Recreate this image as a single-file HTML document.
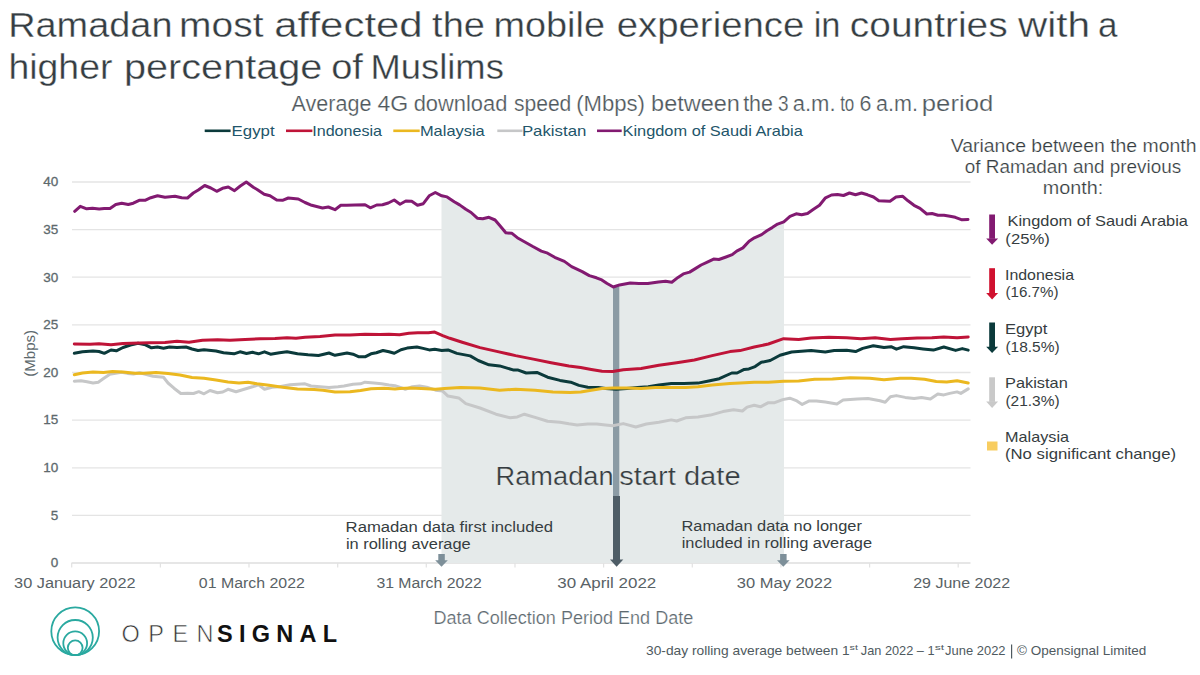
<!DOCTYPE html>
<html><head><meta charset="utf-8"><style>
html,body{margin:0;padding:0;background:#fff;}
body{width:1200px;height:675px;overflow:hidden;}
svg{display:block;font-family:"Liberation Sans", sans-serif;}
</style></head><body>
<svg width="1200" height="675" viewBox="0 0 1200 675">
<rect width="1200" height="675" fill="#fff"/>
<line x1="72" y1="515.4" x2="970.5" y2="515.4" stroke="#e4e4e4" stroke-width="1.3"/>
<line x1="72" y1="467.8" x2="970.5" y2="467.8" stroke="#e4e4e4" stroke-width="1.3"/>
<line x1="72" y1="420.1" x2="970.5" y2="420.1" stroke="#e4e4e4" stroke-width="1.3"/>
<line x1="72" y1="372.5" x2="970.5" y2="372.5" stroke="#e4e4e4" stroke-width="1.3"/>
<line x1="72" y1="324.9" x2="970.5" y2="324.9" stroke="#e4e4e4" stroke-width="1.3"/>
<line x1="72" y1="277.2" x2="970.5" y2="277.2" stroke="#e4e4e4" stroke-width="1.3"/>
<line x1="72" y1="229.6" x2="970.5" y2="229.6" stroke="#e4e4e4" stroke-width="1.3"/>
<line x1="72" y1="182.0" x2="970.5" y2="182.0" stroke="#e4e4e4" stroke-width="1.3"/>
<line x1="71.5" y1="563.0" x2="970.5" y2="563.0" stroke="#dedede" stroke-width="1.3"/>
<line x1="71.7" y1="563.0" x2="71.7" y2="567.5" stroke="#e2e2e2" stroke-width="1.2"/>
<line x1="160.4" y1="563.0" x2="160.4" y2="567.5" stroke="#e2e2e2" stroke-width="1.2"/>
<line x1="249.0" y1="563.0" x2="249.0" y2="567.5" stroke="#e2e2e2" stroke-width="1.2"/>
<line x1="337.7" y1="563.0" x2="337.7" y2="567.5" stroke="#e2e2e2" stroke-width="1.2"/>
<line x1="426.3" y1="563.0" x2="426.3" y2="567.5" stroke="#e2e2e2" stroke-width="1.2"/>
<line x1="515.0" y1="563.0" x2="515.0" y2="567.5" stroke="#e2e2e2" stroke-width="1.2"/>
<line x1="603.6" y1="563.0" x2="603.6" y2="567.5" stroke="#e2e2e2" stroke-width="1.2"/>
<line x1="692.3" y1="563.0" x2="692.3" y2="567.5" stroke="#e2e2e2" stroke-width="1.2"/>
<line x1="780.9" y1="563.0" x2="780.9" y2="567.5" stroke="#e2e2e2" stroke-width="1.2"/>
<line x1="869.6" y1="563.0" x2="869.6" y2="567.5" stroke="#e2e2e2" stroke-width="1.2"/>
<line x1="958.2" y1="563.0" x2="958.2" y2="567.5" stroke="#e2e2e2" stroke-width="1.2"/>
<path d="M441.5,195.7 L441.7,195.8 L447.1,196.9 L454.2,201.7 L459.6,204.9 L465.8,209.3 L471.1,212.5 L477.3,218.2 L482.7,218.8 L488.9,217.3 L495.1,220.0 L500.4,226.2 L505.8,232.8 L512.0,233.3 L518.2,238.3 L525.3,242.2 L532.4,246.3 L541.3,251.1 L547.6,253.2 L554.7,257.3 L564.4,261.4 L571.6,266.6 L582.2,271.6 L589.3,275.6 L596.4,277.8 L601.8,279.9 L607.1,283.5 L613.3,287.0 L619.6,284.9 L630.2,283.1 L638.9,283.6 L647.8,283.6 L658.4,281.9 L665.6,281.3 L671.8,282.2 L678.0,277.4 L683.3,273.9 L689.6,272.1 L694.9,268.9 L701.1,265.0 L707.3,262.1 L713.6,259.1 L718.9,259.5 L726.0,257.0 L732.2,254.7 L736.7,251.1 L742.9,247.9 L749.1,241.3 L754.4,237.8 L761.6,234.6 L766.9,230.7 L772.2,227.6 L777.6,224.1 L783.8,221.8 L784.0,221.6 L784.0,563.0 L441.5,563.0 Z" fill="#e5eaea"/>
<rect x="613" y="286.1" width="6.3" height="209.9" fill="#8b9ba4"/>
<path d="M74.3,381.2 L81.0,380.8 L87.0,381.8 L93.0,383.0 L98.3,382.2 L103.5,378.5 L109.5,374.4 L115.5,373.2 L121.5,372.2 L127.5,373.4 L133.5,374.0 L139.5,372.8 L145.5,374.3 L153.0,376.3 L163.5,377.3 L168.0,383.0 L174.0,388.2 L180.8,393.5 L187.5,393.2 L193.5,393.5 L198.8,391.7 L204.0,393.8 L210.0,390.5 L217.5,392.8 L222.8,392.0 L228.0,389.3 L236.0,391.7 L245.0,389.0 L252.5,386.8 L258.5,384.8 L264.5,389.3 L272.0,387.2 L279.5,386.8 L290.0,384.8 L297.5,384.2 L305.0,383.8 L311.0,386.0 L320.0,386.8 L329.0,387.5 L338.0,386.8 L344.0,386.0 L353.0,384.2 L360.5,383.8 L365.0,382.2 L374.0,383.0 L381.5,383.8 L389.0,385.0 L395.0,385.7 L402.5,388.2 L405.3,389.3 L412.4,386.7 L419.6,386.1 L426.7,387.2 L435.6,390.2 L442.7,391.1 L448.0,396.1 L458.7,397.9 L465.8,403.6 L480.0,408.0 L496.0,414.2 L510.2,417.8 L517.3,416.9 L524.4,414.2 L535.1,417.4 L547.6,421.3 L560.0,422.2 L568.9,423.8 L577.1,424.9 L587.8,424.0 L596.7,424.0 L605.6,424.9 L612.7,425.8 L623.3,423.6 L635.8,427.0 L646.4,424.0 L658.9,422.2 L671.3,419.9 L676.7,421.0 L685.6,417.8 L698.0,416.9 L710.4,415.1 L722.9,411.6 L733.6,409.8 L742.4,411.0 L747.1,407.1 L754.2,405.3 L760.4,406.8 L768.4,402.7 L774.7,402.7 L782.7,399.6 L789.8,398.2 L796.9,400.9 L802.2,404.4 L809.3,400.9 L816.4,400.9 L825.3,402.1 L836.9,403.9 L843.1,400.0 L857.3,399.1 L868.0,398.6 L880.0,400.8 L885.2,402.3 L890.4,396.8 L896.3,395.6 L905.2,397.4 L914.1,398.6 L921.5,397.4 L930.4,398.9 L937.8,394.1 L943.8,394.9 L949.7,393.4 L957.1,391.9 L960.8,393.4 L968.2,388.9" fill="none" stroke="#c6c7c8" stroke-width="3" stroke-linejoin="round" stroke-linecap="round"/>
<path d="M74.3,353.3 L82.5,351.8 L93.0,351.0 L99.0,351.5 L104.3,353.3 L111.0,350.0 L116.3,350.8 L123.0,347.5 L130.5,345.0 L138.0,343.3 L145.5,344.8 L151.5,347.8 L157.5,347.0 L163.5,348.2 L169.5,347.0 L177.0,347.5 L186.0,347.0 L192.0,349.0 L198.0,350.5 L204.0,349.7 L216.0,351.0 L223.5,352.7 L234.0,353.8 L240.0,351.8 L246.5,353.5 L252.5,352.3 L258.5,353.8 L264.5,351.8 L270.5,354.2 L279.5,352.7 L287.0,351.8 L297.5,353.8 L308.0,354.8 L318.5,355.5 L329.0,353.0 L335.0,355.3 L347.0,353.0 L353.0,354.2 L359.0,356.8 L365.0,356.8 L371.0,353.8 L376.3,352.7 L383.0,350.5 L389.0,351.8 L394.3,353.3 L401.0,349.7 L407.1,348.1 L416.9,347.0 L423.1,348.4 L429.3,349.9 L434.7,349.3 L441.8,350.6 L448.0,349.9 L456.9,353.4 L470.2,355.9 L478.2,360.5 L488.9,364.8 L499.6,365.9 L513.8,370.1 L518.2,370.1 L526.2,373.0 L536.9,372.4 L547.6,377.2 L560.0,380.4 L570.7,382.2 L578.9,385.4 L587.8,387.2 L598.4,387.6 L605.6,388.4 L616.2,389.3 L626.9,388.4 L637.6,387.6 L648.2,386.7 L658.9,384.9 L671.3,383.6 L683.8,383.6 L698.0,383.1 L708.7,381.0 L719.3,378.7 L731.8,373.0 L737.1,373.0 L744.2,369.4 L748.9,368.9 L755.1,366.6 L761.3,362.3 L770.2,360.5 L780.0,355.2 L791.6,352.0 L811.1,350.6 L825.3,352.0 L834.2,350.6 L846.7,350.2 L855.6,351.6 L862.7,348.4 L873.3,345.8 L884.0,347.6 L891.1,346.7 L896.4,349.2 L903.7,346.7 L914.1,347.7 L923.0,348.9 L933.4,350.1 L943.8,347.0 L955.6,350.4 L962.3,348.6 L968.2,350.1" fill="none" stroke="#0b3a3b" stroke-width="3" stroke-linejoin="round" stroke-linecap="round"/>
<path d="M74.3,374.8 L82.5,373.0 L93.0,372.0 L103.5,372.5 L112.5,371.6 L123.0,371.9 L135.0,373.3 L144.0,373.3 L156.0,372.5 L168.0,373.6 L180.0,375.0 L192.0,377.5 L204.0,378.2 L216.0,380.0 L228.0,382.0 L239.0,383.0 L248.0,382.2 L257.0,383.8 L269.0,385.3 L282.5,387.2 L297.5,389.0 L314.0,389.5 L323.0,390.2 L335.0,392.0 L350.0,391.7 L360.5,390.5 L371.0,388.7 L384.5,388.2 L395.0,389.0 L400.0,388.4 L410.7,387.9 L421.3,388.4 L435.6,389.3 L444.4,388.4 L460.4,387.6 L480.0,387.9 L499.6,390.2 L515.6,389.3 L535.1,390.2 L552.9,392.0 L570.0,392.5 L580.7,392.0 L591.3,390.2 L602.0,388.4 L612.7,387.9 L626.9,387.9 L641.1,388.4 L655.3,387.6 L669.6,387.6 L685.6,387.6 L698.0,386.7 L712.2,384.9 L730.0,383.6 L740.0,383.1 L754.2,382.2 L768.4,382.2 L783.6,381.3 L798.7,381.0 L814.7,379.2 L832.4,379.0 L850.2,377.8 L869.8,378.3 L884.0,379.7 L900.0,378.3 L911.1,378.3 L924.5,379.3 L936.3,381.5 L946.7,382.0 L957.1,380.8 L968.2,383.0" fill="none" stroke="#ebb820" stroke-width="3" stroke-linejoin="round" stroke-linecap="round"/>
<path d="M74.3,344.0 L90.0,344.3 L99.0,343.7 L111.0,344.8 L123.0,343.5 L139.5,343.0 L150.0,342.8 L165.0,342.5 L177.0,341.3 L189.0,342.2 L202.5,340.3 L217.5,339.8 L230.0,340.3 L245.0,339.5 L260.0,338.8 L275.0,338.5 L287.0,337.7 L296.0,338.3 L305.0,337.3 L320.0,336.5 L335.0,335.0 L350.0,335.0 L365.0,334.3 L380.0,334.5 L389.0,334.3 L399.5,334.7 L408.9,333.3 L417.8,332.8 L428.4,332.8 L434.7,332.1 L442.7,335.6 L449.8,338.3 L462.2,342.2 L480.0,347.6 L497.8,351.6 L515.6,355.6 L533.3,359.1 L551.1,362.7 L568.9,365.9 L580.7,367.6 L591.3,369.4 L602.0,371.2 L612.7,371.6 L623.3,369.8 L641.1,368.4 L658.9,365.3 L676.7,362.7 L694.4,360.0 L712.2,355.6 L730.0,351.6 L740.0,350.6 L754.2,347.0 L768.4,344.0 L783.6,338.7 L798.7,339.6 L811.1,338.1 L828.9,337.2 L846.7,337.8 L860.9,338.7 L875.1,337.8 L890.4,339.6 L902.2,338.8 L917.1,338.1 L931.9,337.8 L943.8,337.0 L957.1,337.8 L968.2,337.0" fill="none" stroke="#bf1438" stroke-width="3" stroke-linejoin="round" stroke-linecap="round"/>
<path d="M74.7,211.3 L80.3,206.3 L86.7,208.8 L92.5,208.3 L99.2,209.0 L104.2,208.5 L110.0,208.5 L115.8,204.5 L121.7,203.2 L128.3,204.5 L133.3,203.2 L139.2,200.3 L145.0,200.3 L150.8,197.7 L157.5,195.8 L165.0,197.3 L175.0,196.3 L181.7,197.7 L187.5,198.0 L193.3,193.0 L198.3,190.0 L204.7,185.5 L210.8,188.0 L216.7,191.3 L222.5,188.3 L228.3,187.0 L234.5,190.7 L240.3,186.0 L246.3,182.0 L253.3,187.2 L257.5,189.7 L264.2,194.2 L270.0,195.8 L276.7,200.0 L282.5,200.3 L288.3,198.0 L298.3,199.0 L305.0,202.5 L311.7,205.3 L322.5,208.0 L328.3,207.0 L335.0,209.7 L340.8,205.3 L346.7,205.3 L355.0,205.0 L365.0,204.7 L370.3,207.8 L376.7,205.0 L382.5,204.7 L388.3,203.0 L394.2,200.0 L400.0,204.2 L405.8,201.0 L411.7,201.3 L417.5,205.3 L423.3,203.7 L429.2,195.8 L435.3,192.5 L441.7,195.8 L447.1,196.9 L454.2,201.7 L459.6,204.9 L465.8,209.3 L471.1,212.5 L477.3,218.2 L482.7,218.8 L488.9,217.3 L495.1,220.0 L500.4,226.2 L505.8,232.8 L512.0,233.3 L518.2,238.3 L525.3,242.2 L532.4,246.3 L541.3,251.1 L547.6,253.2 L554.7,257.3 L564.4,261.4 L571.6,266.6 L582.2,271.6 L589.3,275.6 L596.4,277.8 L601.8,279.9 L607.1,283.5 L613.3,287.0 L619.6,284.9 L630.2,283.1 L638.9,283.6 L647.8,283.6 L658.4,281.9 L665.6,281.3 L671.8,282.2 L678.0,277.4 L683.3,273.9 L689.6,272.1 L694.9,268.9 L701.1,265.0 L707.3,262.1 L713.6,259.1 L718.9,259.5 L726.0,257.0 L732.2,254.7 L736.7,251.1 L742.9,247.9 L749.1,241.3 L754.4,237.8 L761.6,234.6 L766.9,230.7 L772.2,227.6 L777.6,224.1 L783.8,221.8 L790.0,216.4 L796.2,213.8 L801.6,214.7 L807.5,213.5 L813.5,209.3 L819.5,205.3 L825.5,197.8 L831.5,195.0 L837.5,194.5 L843.5,195.5 L849.5,193.0 L855.5,194.8 L861.5,193.0 L867.5,194.8 L873.5,197.0 L878.8,200.8 L884.0,201.0 L890.0,201.2 L896.0,197.0 L902.8,196.3 L908.0,200.8 L914.0,205.3 L920.0,208.3 L926.8,214.0 L932.0,213.5 L938.0,215.3 L944.0,215.3 L950.0,216.2 L955.3,217.3 L962.0,219.8 L968.0,219.5" fill="none" stroke="#821a71" stroke-width="3" stroke-linejoin="round" stroke-linecap="round"/>
<text x="495.57" y="485.3" font-size="26" fill="#363d41" textLength="118.0" lengthAdjust="spacingAndGlyphs" stroke="#fff" stroke-width="0.22">Ramadan</text>
<text x="619.19" y="485.3" font-size="26" fill="#363d41" textLength="121.4" lengthAdjust="spacingAndGlyphs" stroke="#fff" stroke-width="0.22">start date</text>
<rect x="613" y="496" width="7" height="64" fill="#4e5d66"/>
<path d="M610,559.5 L623.3,559.5 L616.6,566.8 Z" fill="#4e5d66"/>
<rect x="438.3" y="554" width="6.5" height="7" fill="#7d8f99"/>
<path d="M435.2,560.3 L447.8,560.3 L441.5,566.8 Z" fill="#7d8f99"/>
<rect x="780.1" y="554" width="6.5" height="7" fill="#7d8f99"/>
<path d="M777.0,560.3 L789.6,560.3 L783.3,566.8 Z" fill="#7d8f99"/>
<text x="345.63" y="531.5" font-size="15.5" fill="#363d41" textLength="207.44" lengthAdjust="spacingAndGlyphs">Ramadan data first included</text>
<text x="345.9" y="549" font-size="15.5" fill="#363d41" textLength="124.82" lengthAdjust="spacingAndGlyphs">in rolling average</text>
<text x="681.46" y="530.7" font-size="15.5" fill="#363d41" textLength="180.42" lengthAdjust="spacingAndGlyphs">Ramadan data no longer</text>
<text x="681.7" y="548.1" font-size="15.5" fill="#363d41" textLength="190.32" lengthAdjust="spacingAndGlyphs">included in rolling average</text>
<text x="8.19" y="37.2" font-size="35.5" fill="#353d42" textLength="164.27" lengthAdjust="spacingAndGlyphs" stroke="#fff" stroke-width="0.35">Ramadan</text>
<text x="179.11" y="37.2" font-size="35.5" fill="#353d42" textLength="84.47" lengthAdjust="spacingAndGlyphs" stroke="#fff" stroke-width="0.35">most</text>
<text x="274.23" y="37.2" font-size="35.5" fill="#353d42" textLength="148.46" lengthAdjust="spacingAndGlyphs" stroke="#fff" stroke-width="0.35">affected</text>
<text x="432.12" y="37.2" font-size="35.5" fill="#353d42" textLength="52.87" lengthAdjust="spacingAndGlyphs" stroke="#fff" stroke-width="0.35">the</text>
<text x="493.49" y="37.2" font-size="35.5" fill="#353d42" textLength="111.5" lengthAdjust="spacingAndGlyphs" stroke="#fff" stroke-width="0.35">mobile</text>
<text x="616.67" y="37.2" font-size="35.5" fill="#353d42" textLength="187.74" lengthAdjust="spacingAndGlyphs" stroke="#fff" stroke-width="0.35">experience</text>
<text x="813.69" y="37.2" font-size="35.5" fill="#353d42" textLength="26.85" lengthAdjust="spacingAndGlyphs" stroke="#fff" stroke-width="0.35">in</text>
<text x="849.85" y="37.2" font-size="35.5" fill="#353d42" textLength="157.86" lengthAdjust="spacingAndGlyphs" stroke="#fff" stroke-width="0.35">countries</text>
<text x="1018.06" y="37.2" font-size="35.5" fill="#353d42" textLength="72.07" lengthAdjust="spacingAndGlyphs" stroke="#fff" stroke-width="0.35">with</text>
<text x="1098.01" y="37.2" font-size="35.5" fill="#353d42" textLength="19.49" lengthAdjust="spacingAndGlyphs" stroke="#fff" stroke-width="0.35">a</text>
<text x="8.41" y="79.0" font-size="35.5" fill="#353d42" textLength="104.02" lengthAdjust="spacingAndGlyphs" stroke="#fff" stroke-width="0.35">higher</text>
<text x="123.94" y="79.0" font-size="35.5" fill="#353d42" textLength="198.42" lengthAdjust="spacingAndGlyphs" stroke="#fff" stroke-width="0.35">percentage</text>
<text x="331.2" y="79.0" font-size="35.5" fill="#353d42" textLength="31.74" lengthAdjust="spacingAndGlyphs" stroke="#fff" stroke-width="0.35">of</text>
<text x="370.52" y="79.0" font-size="35.5" fill="#353d42" textLength="133.3" lengthAdjust="spacingAndGlyphs" stroke="#fff" stroke-width="0.35">Muslims</text>
<text x="291.56" y="110.5" font-size="22" fill="#4f585d" textLength="79.9" lengthAdjust="spacingAndGlyphs" stroke="#fff" stroke-width="0.22">Average</text>
<text x="377.47" y="110.5" font-size="22" fill="#4f585d" textLength="30.75" lengthAdjust="spacingAndGlyphs" stroke="#fff" stroke-width="0.22">4G</text>
<text x="413.68" y="110.5" font-size="22" fill="#4f585d" textLength="93.73" lengthAdjust="spacingAndGlyphs" stroke="#fff" stroke-width="0.22">download</text>
<text x="513.91" y="110.5" font-size="22" fill="#4f585d" textLength="57.45" lengthAdjust="spacingAndGlyphs" stroke="#fff" stroke-width="0.22">speed</text>
<text x="576.13" y="110.5" font-size="22" fill="#4f585d" textLength="68.84" lengthAdjust="spacingAndGlyphs" stroke="#fff" stroke-width="0.22">(Mbps)</text>
<text x="651.09" y="110.5" font-size="22" fill="#4f585d" textLength="88.84" lengthAdjust="spacingAndGlyphs" stroke="#fff" stroke-width="0.22">between</text>
<text x="743.18" y="110.5" font-size="22" fill="#4f585d" textLength="29.78" lengthAdjust="spacingAndGlyphs" stroke="#fff" stroke-width="0.22">the</text>
<text x="777.88" y="110.5" font-size="22" fill="#4f585d" textLength="10.56" lengthAdjust="spacingAndGlyphs" stroke="#fff" stroke-width="0.22">3</text>
<text x="792.66" y="110.5" font-size="22" fill="#4f585d" textLength="42.85" lengthAdjust="spacingAndGlyphs" stroke="#fff" stroke-width="0.22">a.m.</text>
<text x="840.14" y="110.5" font-size="22" fill="#4f585d" textLength="14.17" lengthAdjust="spacingAndGlyphs" stroke="#fff" stroke-width="0.22">to</text>
<text x="859.41" y="110.5" font-size="22" fill="#4f585d" textLength="11.93" lengthAdjust="spacingAndGlyphs" stroke="#fff" stroke-width="0.22">6</text>
<text x="876.09" y="110.5" font-size="22" fill="#4f585d" textLength="41.88" lengthAdjust="spacingAndGlyphs" stroke="#fff" stroke-width="0.22">a.m.</text>
<text x="921.84" y="110.5" font-size="22" fill="#4f585d" textLength="71.41" lengthAdjust="spacingAndGlyphs" stroke="#fff" stroke-width="0.22">period</text>
<line x1="204.7" y1="130.8" x2="230.6" y2="130.8" stroke="#0b3a3b" stroke-width="2.6"/>
<text x="231.62" y="135.7" font-size="15" fill="#22556a" textLength="43.0" lengthAdjust="spacingAndGlyphs">Egypt</text>
<line x1="286" y1="130.8" x2="312.4" y2="130.8" stroke="#bf1438" stroke-width="2.6"/>
<text x="312.22" y="135.7" font-size="15" fill="#22556a" textLength="69.78" lengthAdjust="spacingAndGlyphs">Indonesia</text>
<line x1="393.3" y1="130.8" x2="419.7" y2="130.8" stroke="#ebb820" stroke-width="2.6"/>
<text x="419.95" y="135.7" font-size="15" fill="#22556a" textLength="64.75" lengthAdjust="spacingAndGlyphs">Malaysia</text>
<line x1="497.3" y1="130.8" x2="522.5" y2="130.8" stroke="#c6c7c8" stroke-width="2.6"/>
<text x="521.92" y="135.7" font-size="15" fill="#22556a" textLength="64.47" lengthAdjust="spacingAndGlyphs">Pakistan</text>
<line x1="597" y1="130.8" x2="621.7" y2="130.8" stroke="#821a71" stroke-width="2.6"/>
<text x="622.46" y="135.7" font-size="15" fill="#22556a" textLength="180.34" lengthAdjust="spacingAndGlyphs">Kingdom of Saudi Arabia</text>
<text x="58.33" y="567.3" font-size="13.5" fill="#5d696d" text-anchor="end" stroke="#5d696d" stroke-width="0.3">0</text>
<text x="58.37" y="519.7" font-size="13.5" fill="#5d696d" text-anchor="end" stroke="#5d696d" stroke-width="0.3">5</text>
<text x="58.33" y="472.1" font-size="13.5" fill="#5d696d" text-anchor="end" stroke="#5d696d" stroke-width="0.3">10</text>
<text x="58.37" y="424.4" font-size="13.5" fill="#5d696d" text-anchor="end" stroke="#5d696d" stroke-width="0.3">15</text>
<text x="58.33" y="376.8" font-size="13.5" fill="#5d696d" text-anchor="end" stroke="#5d696d" stroke-width="0.3">20</text>
<text x="58.37" y="329.2" font-size="13.5" fill="#5d696d" text-anchor="end" stroke="#5d696d" stroke-width="0.3">25</text>
<text x="58.33" y="281.6" font-size="13.5" fill="#5d696d" text-anchor="end" stroke="#5d696d" stroke-width="0.3">30</text>
<text x="58.37" y="233.9" font-size="13.5" fill="#5d696d" text-anchor="end" stroke="#5d696d" stroke-width="0.3">35</text>
<text x="58.33" y="186.3" font-size="13.5" fill="#5d696d" text-anchor="end" stroke="#5d696d" stroke-width="0.3">40</text>
<text transform="translate(34.8,353.3) rotate(-90)" font-size="15.5" fill="#5d696d" text-anchor="middle" textLength="46.7" lengthAdjust="spacingAndGlyphs">(Mbps)</text>
<text x="14.08" y="587.8" font-size="15.5" fill="#596266" textLength="121.44" lengthAdjust="spacingAndGlyphs">30 January 2022</text>
<text x="198.88" y="587.8" font-size="15.5" fill="#596266" textLength="105.92" lengthAdjust="spacingAndGlyphs">01 March 2022</text>
<text x="376.4" y="587.8" font-size="15.5" fill="#596266" textLength="105.4" lengthAdjust="spacingAndGlyphs">31 March 2022</text>
<text x="557.36" y="587.8" font-size="15.5" fill="#596266" textLength="98.88" lengthAdjust="spacingAndGlyphs">30 April 2022</text>
<text x="736.87" y="587.8" font-size="15.5" fill="#596266" textLength="95.26" lengthAdjust="spacingAndGlyphs">30 May 2022</text>
<text x="913.2" y="587.8" font-size="15.5" fill="#596266" textLength="96.91" lengthAdjust="spacingAndGlyphs">29 June 2022</text>
<text x="433.52" y="624.3" font-size="18" fill="#5e6a70" textLength="259.78" lengthAdjust="spacingAndGlyphs" stroke="#fff" stroke-width="0.22">Data Collection Period End Date</text>
<text x="645.98" y="655" font-size="13.5" fill="#4f5a60" textLength="203.7" lengthAdjust="spacingAndGlyphs">30-day rolling average between 1</text>
<text x="849.5" y="650.2" font-size="7.5" fill="#4f5a60" textLength="8.38" lengthAdjust="spacingAndGlyphs">st</text>
<text x="860.8" y="655" font-size="13.5" fill="#4f5a60" textLength="73.82" lengthAdjust="spacingAndGlyphs">Jan 2022 – 1</text>
<text x="934.66" y="650.2" font-size="7.5" fill="#4f5a60" textLength="9.43" lengthAdjust="spacingAndGlyphs">st</text>
<text x="945.1" y="655" font-size="13.5" fill="#4f5a60" textLength="60.45" lengthAdjust="spacingAndGlyphs">June 2022</text>
<rect x="1011" y="644.5" width="1.2" height="14" fill="#4f5a60"/>
<text x="1017.1" y="655" font-size="13.5" fill="#4f5a60" textLength="129.27" lengthAdjust="spacingAndGlyphs">© Opensignal Limited</text>
<text x="950.72" y="151.8" font-size="18.5" fill="#363d41" textLength="245.84" lengthAdjust="spacingAndGlyphs" stroke="#fff" stroke-width="0.22">Variance between the month</text>
<text x="964.81" y="172.6" font-size="18.5" fill="#363d41" textLength="216.38" lengthAdjust="spacingAndGlyphs" stroke="#fff" stroke-width="0.22">of Ramadan and previous</text>
<text x="1042.69" y="193.9" font-size="18.5" fill="#363d41" textLength="60.52" lengthAdjust="spacingAndGlyphs" stroke="#fff" stroke-width="0.22">month:</text>
<rect x="989.2" y="214.5" width="5.8" height="24.30000000000001" fill="#821a71"/>
<path d="M986.2,238.4 L998.1,238.4 L992.1,244.8 Z" fill="#821a71"/>
<text x="1007.56" y="226.4" font-size="15" fill="#363d41" textLength="180.44" lengthAdjust="spacingAndGlyphs">Kingdom of Saudi Arabia</text>
<text x="1005.37" y="244.0" font-size="15" fill="#363d41" textLength="44.47" lengthAdjust="spacingAndGlyphs">(25%)</text>
<rect x="989.2" y="268.2" width="5.8" height="25.30000000000001" fill="#d0112f"/>
<path d="M986.2,293.1 L998.1,293.1 L992.1,299.5 Z" fill="#d0112f"/>
<text x="1005.03" y="279.8" font-size="15" fill="#363d41" textLength="68.97" lengthAdjust="spacingAndGlyphs">Indonesia</text>
<text x="1005.46" y="297.40000000000003" font-size="15" fill="#363d41" textLength="52.98" lengthAdjust="spacingAndGlyphs">(16.7%)</text>
<rect x="989.2" y="322.5" width="5.8" height="24.600000000000023" fill="#0b3a3b"/>
<path d="M986.2,346.7 L998.1,346.7 L992.1,353.1 Z" fill="#0b3a3b"/>
<text x="1005.04" y="333.9" font-size="15" fill="#363d41" textLength="42.38" lengthAdjust="spacingAndGlyphs">Egypt</text>
<text x="1005.44" y="351.5" font-size="15" fill="#363d41" textLength="54.22" lengthAdjust="spacingAndGlyphs">(18.5%)</text>
<rect x="989.2" y="377.3" width="5.8" height="24.599999999999966" fill="#c9c9c9"/>
<path d="M986.2,401.5 L998.1,401.5 L992.1,407.9 Z" fill="#c9c9c9"/>
<text x="1005.06" y="387.9" font-size="15" fill="#363d41" textLength="62.7" lengthAdjust="spacingAndGlyphs">Pakistan</text>
<text x="1005.44" y="405.5" font-size="15" fill="#363d41" textLength="54.22" lengthAdjust="spacingAndGlyphs">(21.3%)</text>
<rect x="987" y="441.5" width="10.5" height="9" fill="#f8cd60"/>
<text x="1005.07" y="442" font-size="15" fill="#363d41" textLength="63.93" lengthAdjust="spacingAndGlyphs">Malaysia</text>
<text x="1004.96" y="459.4" font-size="15" fill="#363d41" textLength="171.07" lengthAdjust="spacingAndGlyphs">(No significant change)</text>
<circle cx="75.2" cy="631.3" r="23.9" fill="none" stroke="#2aa9a0" stroke-width="1.8"/>
<circle cx="75.2" cy="637.6" r="17.6" fill="none" stroke="#2aa9a0" stroke-width="1.8"/>
<circle cx="75.2" cy="643.3" r="11.9" fill="none" stroke="#2aa9a0" stroke-width="1.8"/>
<circle cx="75.2" cy="647.8" r="7.4" fill="none" stroke="#2aa9a0" stroke-width="1.8"/>
<text x="121.6" y="641.6" font-size="23.5" fill="#333" textLength="92" lengthAdjust="spacing" stroke="#fff" stroke-width="0.6">OPEN</text>
<text x="217" y="641.6" font-size="23.5" fill="#111" font-weight="bold" textLength="120" lengthAdjust="spacing">SIGNAL</text>
</svg>
</body></html>
